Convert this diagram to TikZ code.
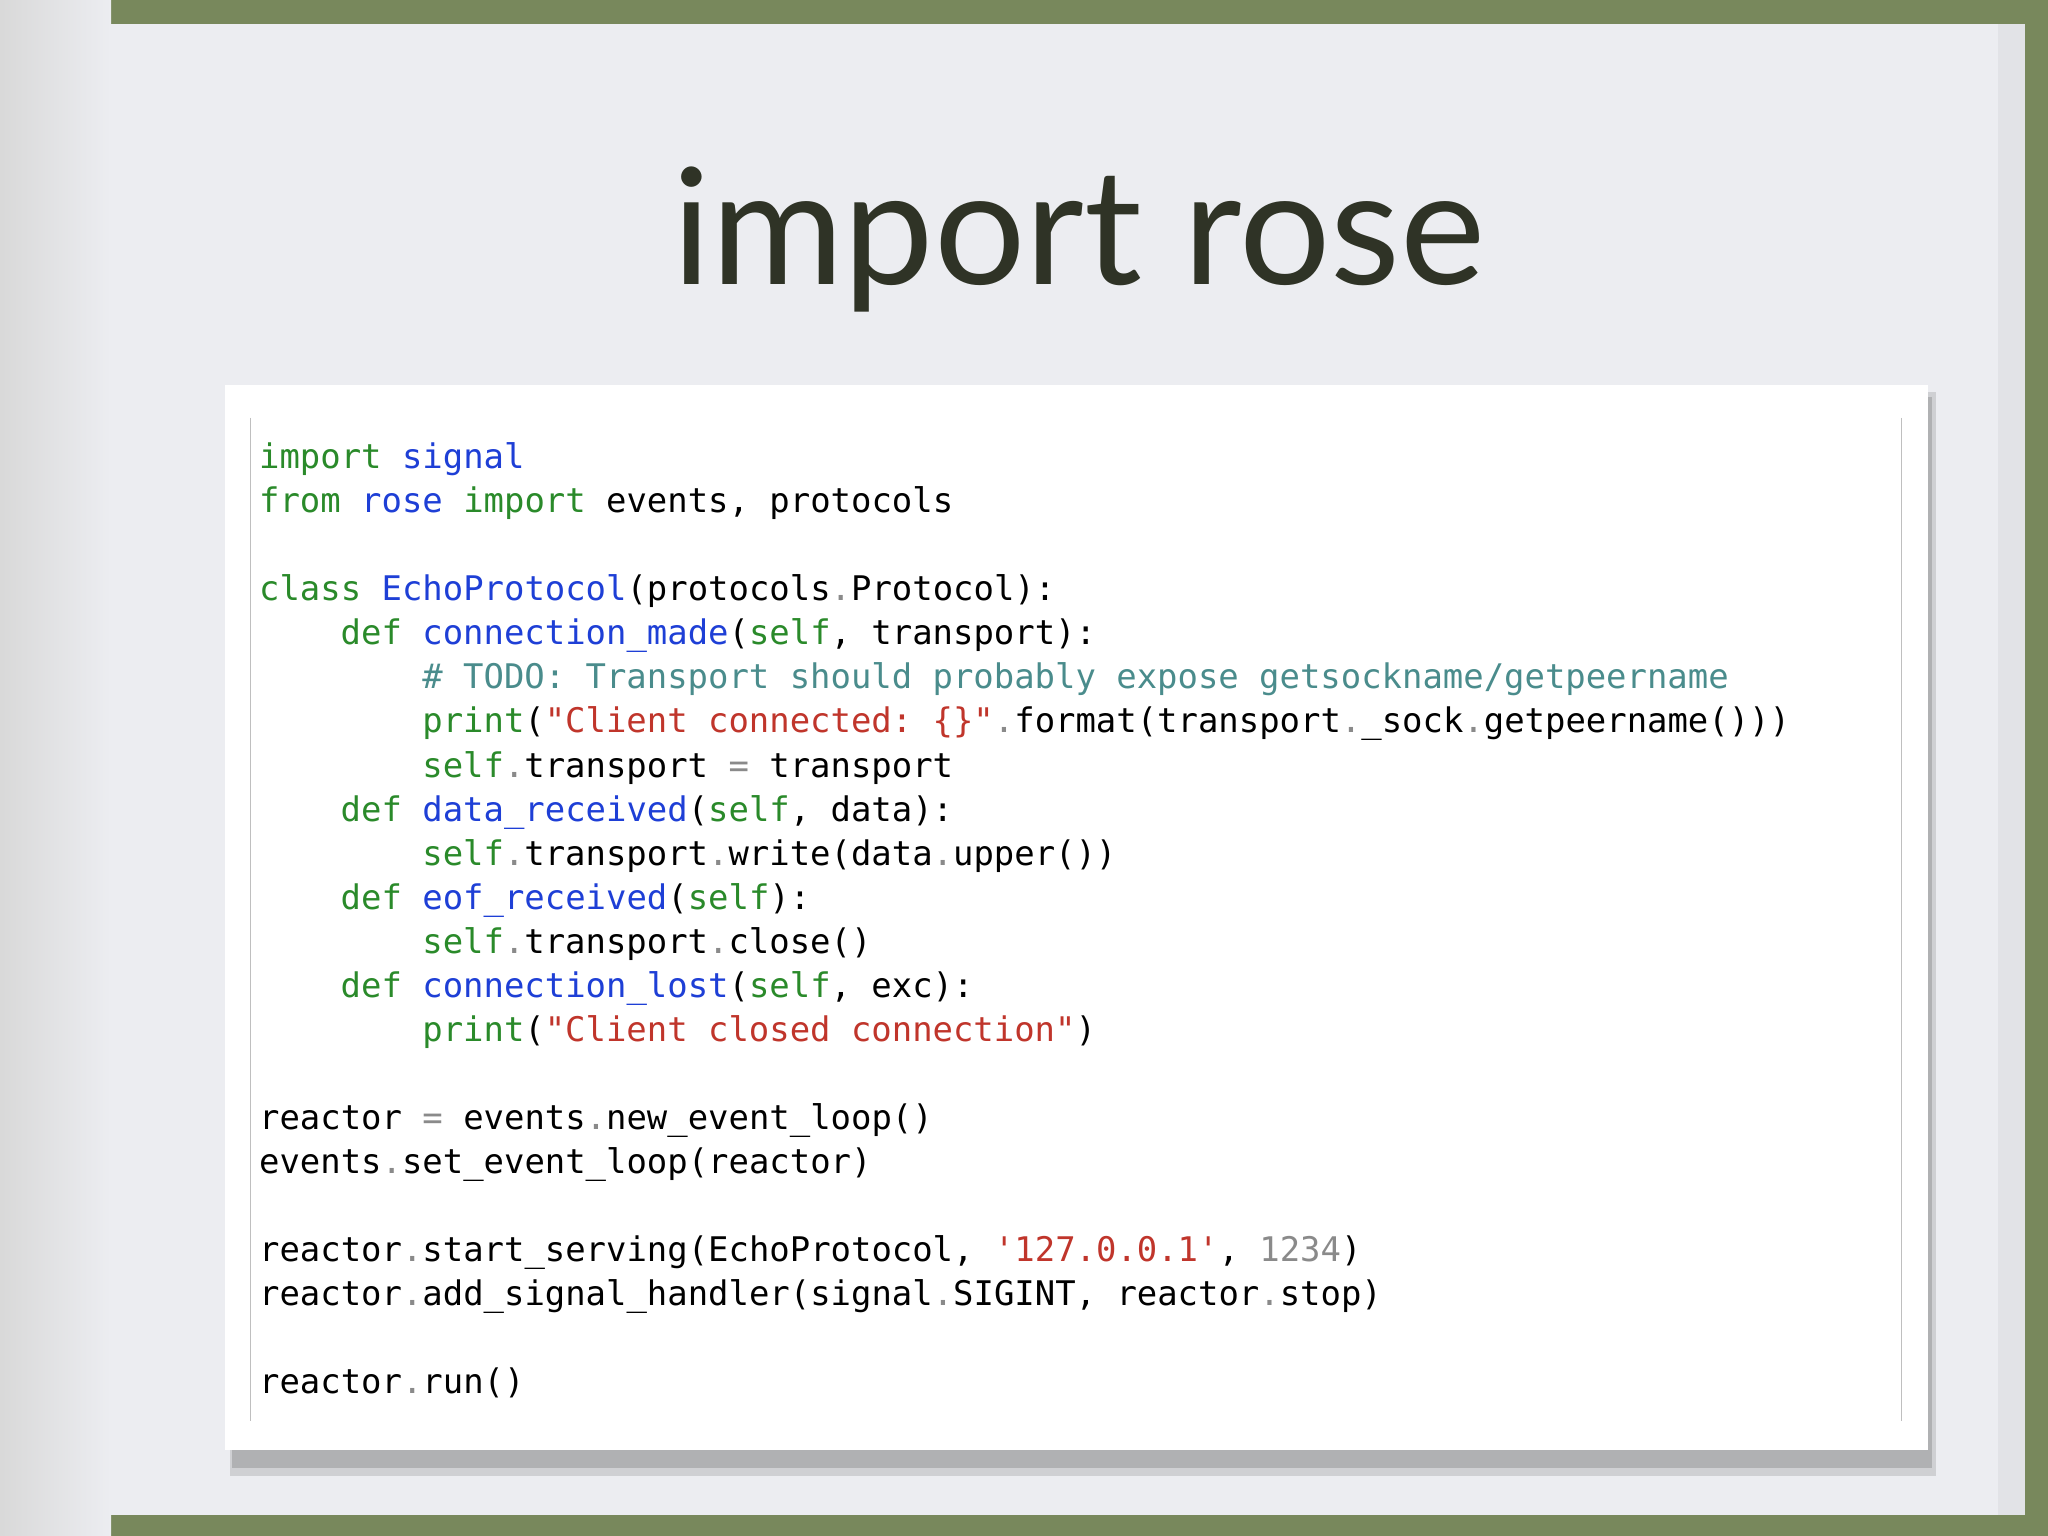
\documentclass[tikz,border=0pt]{standalone}
\usepackage{fontspec}
\setmainfont{Lato}
\setmonofont{DejaVu Sans Mono}
\usetikzlibrary{shadows,fadings}
\definecolor{kw}{HTML}{2A8A2A}
\definecolor{nm}{HTML}{1E3FD6}
\definecolor{st}{HTML}{C0352B}
\definecolor{cm}{HTML}{4A8C8C}
\definecolor{gr}{HTML}{8A8A8A}
\definecolor{ttl}{HTML}{2F3326}
\newcommand\K[1]{\textcolor{kw}{#1}}
\newcommand\N[1]{\textcolor{nm}{#1}}
\newcommand\Sg[1]{\textcolor{st}{#1}}
\newcommand\Cm[1]{\textcolor{cm}{#1}}
\newcommand\D{\textcolor{gr}{.}}
\newcommand\Eq{\textcolor{gr}{=}}
\begin{document}
\begin{tikzpicture}[x=0.5pt,y=-0.5pt,
  code/.style={anchor=base west,inner sep=0,font=\ttfamily\fontsize{12.98pt}{14pt}\selectfont}]
\useasboundingbox (0,0) rectangle (1568,1176);
\fill[color={rgb,255:red,120;green,136;blue,92}] (0,0) rectangle (1568,1176);
\fill[color={rgb,255:red,236;green,237;blue,241}] (0,18) rectangle (1540,1160);
\fill[color={rgb,255:red,226;green,227;blue,231}] (1530,18) rectangle (1550,1160);
\shade[left color=white!70!gray, right color={rgb,255:red,236;green,237;blue,241}] (0,0) rectangle (85,1176);
\fill[black,opacity=0.12] (176,300) rectangle (1482,1130);
\fill[black,opacity=0.15] (178,304) rectangle (1479,1124);
\fill[white] (172,295) rectangle (1476,1110);
\draw[gray!50] (192,320) -- (192,1088);
\draw[gray!50] (1456,320) -- (1456,1088);
\node[anchor=base,inner sep=0,text=ttl] (title) at (826,218) {\resizebox{311pt}{!}{import rose}};
\def\L#1#2#3{\node[code] (l#1) at ({198+#2*15.62},{359+#1*33.7}) {#3};}
\L{0}{0}{\K{import} \N{signal}}
\L{1}{0}{\K{from} \N{rose} \K{import} events, protocols}
\L{3}{0}{\K{class} \N{EchoProtocol}(protocols\D Protocol):}
\L{4}{4}{\K{def} \N{connection\_made}(\K{self}, transport):}
\L{5}{8}{\Cm{\# TODO: Transport should probably expose getsockname/getpeername}}
\L{6}{8}{\K{print}(\Sg{"Client connected: \{\}"}\D format(transport\D\_sock\D getpeername()))}
\L{7}{8}{\K{self}\D transport \Eq{} transport}
\L{8}{4}{\K{def} \N{data\_received}(\K{self}, data):}
\L{9}{8}{\K{self}\D transport\D write(data\D upper())}
\L{10}{4}{\K{def} \N{eof\_received}(\K{self}):}
\L{11}{8}{\K{self}\D transport\D close()}
\L{12}{4}{\K{def} \N{connection\_lost}(\K{self}, exc):}
\L{13}{8}{\K{print}(\Sg{"Client closed connection"})}
\L{15}{0}{reactor \Eq{} events\D new\_event\_loop()}
\L{16}{0}{events\D set\_event\_loop(reactor)}
\L{18}{0}{reactor\D start\_serving(EchoProtocol, \Sg{'127.0.0.1'}, \textcolor{gr}{1234})}
\L{19}{0}{reactor\D add\_signal\_handler(signal\D SIGINT, reactor\D stop)}
\L{21}{0}{reactor\D run()}
\end{tikzpicture}
\end{document}
